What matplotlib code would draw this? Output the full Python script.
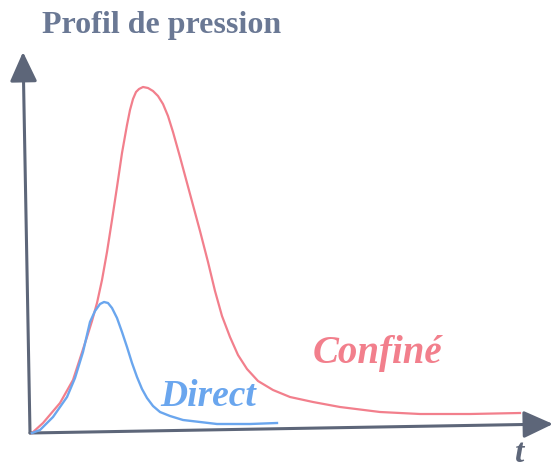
import matplotlib
matplotlib.use("Agg")
import matplotlib.pyplot as plt
from matplotlib.patches import FancyArrowPatch

# pressure profiles, time vs pressure (arbitrary units)
confine_t = [2, 13, 30, 43, 57, 62, 67, 72, 77, 82, 87, 92, 97, 100, 103, 106, 109, 113,
             118, 123, 128, 133, 138, 143, 150, 160, 170, 178, 185, 192, 200, 208, 217,
             228, 243, 260, 283, 310, 350, 390, 440, 490]
confine_p = [0, 10, 30, 53, 96, 112, 130, 153, 181, 213, 246, 280, 308, 323, 334, 341, 344,
             346, 345, 342, 337, 329, 317, 301, 276, 239, 202, 171, 142, 117, 96, 78, 64,
             52, 43, 36, 31, 26, 21, 19, 19, 20]

direct_t = [2, 10, 23, 37, 45, 53, 60, 65, 70, 74, 78, 82, 87, 92, 97, 102, 107, 112, 117,
            123, 130, 140, 153, 170, 187, 220, 247]
direct_p = [0, 3, 16, 36, 55, 81, 111, 122, 129, 131, 130, 125, 115, 101, 86, 70, 56, 44, 35,
            27, 21, 17, 13, 11, 9, 9, 10]

red = "#f27f8c"
blue = "#6aa6ee"
axis_col = "#5d6679"
serif = ["Liberation Serif", "DejaVu Serif"]

fig = plt.figure(figsize=(5.53, 4.68), dpi=100)
ax = fig.add_axes([0, 0, 1, 1])
ax.set_xlim(-30, 523)
ax.set_ylim(-35, 433)
ax.axis("off")

# axes with arrow heads
for tip in [(-7, 381), (523, 9)]:
    ax.add_patch(FancyArrowPatch((0, 0), tip, arrowstyle="-|>,head_length=1.3,head_width=0.6",
                                 mutation_scale=14, color=axis_col, lw=2.2, shrinkA=0, shrinkB=0))

ax.plot(confine_t, confine_p, color=red, lw=1.6, solid_joinstyle="round")
ax.plot(direct_t, direct_p, color=blue, lw=1.7, solid_joinstyle="round")

ax.text(12, 408, "Profil de pression", family=serif, weight="bold", fontsize=23,
        color="#6a7894", va="center", ha="left")
ax.text(130, 37, "Direct", family=serif, weight="bold", style="italic", fontsize=27,
        color=blue, va="center", ha="left")
ax.text(283, 79, "Confiné", family=serif, weight="bold", style="italic", fontsize=28,
        color=red, va="center", ha="left")
ax.text(490, -20, "t", family=serif, weight="bold", style="italic", fontsize=24,
        color=axis_col, va="center", ha="center")

fig.savefig("out.png", dpi=100)
